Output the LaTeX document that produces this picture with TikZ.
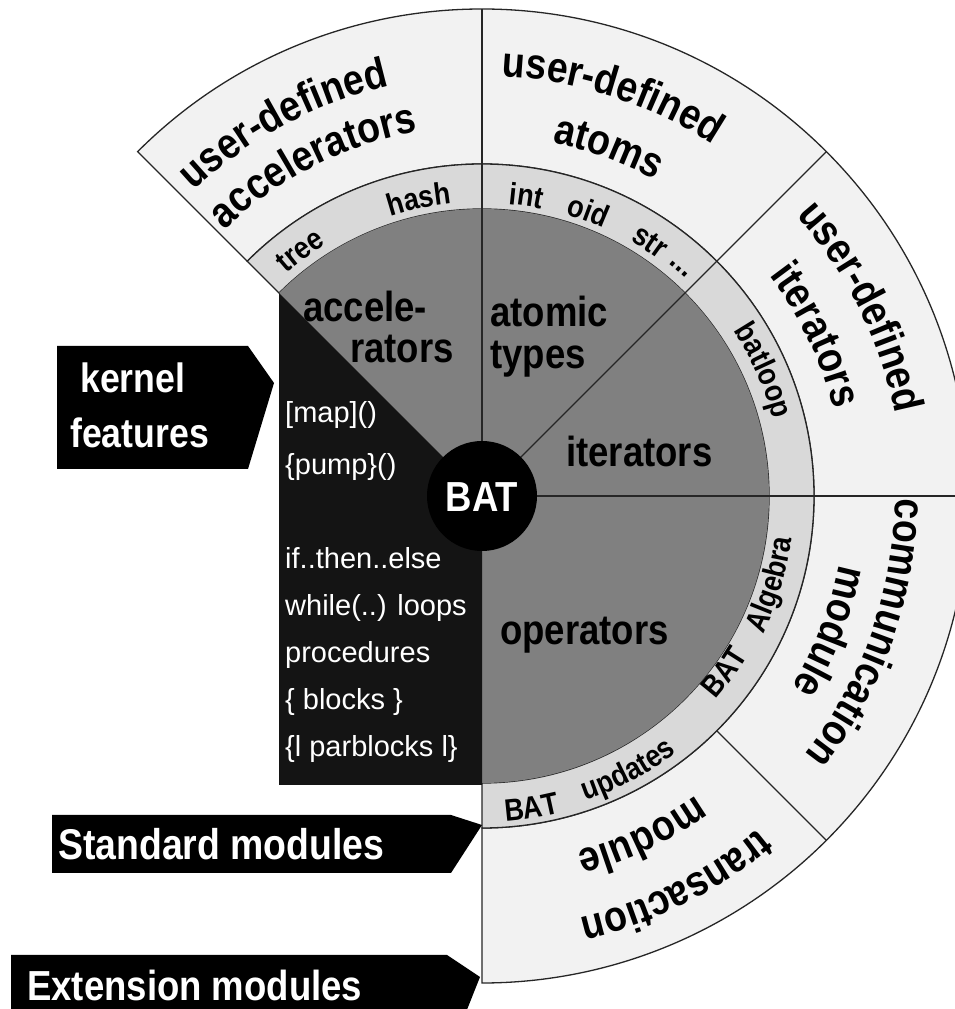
\documentclass[tikz,border=0pt]{standalone}
\usepackage{fontspec}
\setmainfont{Liberation Sans}
\newfontfamily\lab{Liberation Sans}[FakeStretch=0.87]
\usetikzlibrary{decorations.text}

\definecolor{outerfill}{gray}{0.95}
\definecolor{midfill}{gray}{0.85}
\definecolor{corefill}{gray}{0.5}
\definecolor{kernfill}{gray}{0.08}

% type sizes
\newcommand\bigfont{\lab\bfseries\fontsize{42bp}{50bp}\selectfont}
\newcommand\outfont{\lab\bfseries\fontsize{43bp}{50bp}\selectfont}
\newcommand\ringfont{\lab\bfseries\fontsize{31bp}{36bp}\selectfont}
\newcommand\kfont{\fontsize{29bp}{34bp}\selectfont}

% text set along a circular arc around the origin:
% clockwise with letter tops outward / counter-clockwise with tops inward
\newcommand\cwtext[4]{\path[decorate,decoration={text along path,text align=center,text={|#1|#2}}]
  ({#3+40}:#4) arc[start angle={#3+40}, end angle={#3-40}, radius=#4];}
\newcommand\ccwtext[4]{\path[decorate,decoration={text along path,text align=center,text={|#1|#2}}]
  ({#3-40}:#4) arc[start angle={#3-40}, end angle={#3+40}, radius=#4];}

\tikzset{
  sep/.style={line width=1.3bp, draw=black!85},
  tag/.style={fill=black},
  tagtext/.style={text=white, anchor=base west, inner sep=0pt, font=\bigfont},
  coretext/.style={text=black, anchor=base west, inner sep=0pt, font=\bigfont},
  kerntext/.style={text=white, anchor=base west, inner sep=0pt, font=\kfont},
}

\begin{document}
\begin{tikzpicture}[x=1bp,y=1bp]
\clip (0,0) rectangle (955,1009);
\fill[white] (0,0) rectangle (955,1009);

\begin{scope}[shift={(482,513)}]
  % outer ring of modules
  \path[fill=outerfill, sep] (135:487) arc[start angle=135,end angle=-90,radius=487]
     -- (-90:332) arc[start angle=-90,end angle=135,radius=332] -- cycle;
  % ring of standard modules
  \path[fill=midfill, sep] (135:332) arc[start angle=135,end angle=-90,radius=332]
     -- (-90:287) arc[start angle=-90,end angle=135,radius=287] -- cycle;
  % kernel core
  \path[fill=corefill] (0,0) -- (135:287) arc[start angle=135,end angle=-90,radius=287] -- cycle;
  \fill[kernfill] (135:287) -- (0,0) -- (0,-289) -- (-203,-289) -- cycle;

  % sector separators
  \draw[sep] (0,0) -- (90:487);
  \draw[sep] (0,0) -- (45:487);
  \draw[sep] (0,0) -- (0:500);
  \draw[sep] (-45:332) -- (-45:487);

  % the BAT hub
  \node (bat) [circle, fill=black, minimum size=110bp, inner sep=0pt] at (0,0) {};
  \node (battext) [text=white, font=\bigfont, inner sep=0pt] at (0,-1) {BAT};

  % outer ring labels
  \cwtext{\outfont}{user-defined}{118}{420}
  \cwtext{\outfont}{accelerators}{117}{370}
  \cwtext{\outfont}{user-defined}{72}{420}
  \cwtext{\outfont}{atoms}{70}{360}
  \cwtext{\outfont}{user-defined}{26.5}{421}
  \cwtext{\outfont}{iterators}{25.7}{362}
  \cwtext{\outfont}{communication}{-19.5}{413}
  \cwtext{\outfont}{module}{-21.3}{364}
  \cwtext{\outfont}{transaction}{-63.6}{433}
  \cwtext{\outfont}{module}{-64.8}{368}

  % standard module labels
  \cwtext{\ringfont}{tree}{126.5}{296}
  \cwtext{\ringfont}{hash}{102}{294}
  \cwtext{\ringfont}{int}{81.5}{293}
  \cwtext{\ringfont}{oid}{69.5}{294}
  \cwtext{\ringfont}{str}{56.5}{295}
  \cwtext{\ringfont}{...}{49}{298}
  \cwtext{\ringfont}{batloop}{24}{301}
  \ccwtext{\ringfont}{BAT}{-36}{310}
  \ccwtext{\ringfont}{Algebra}{-17}{313}
  \ccwtext{\ringfont}{BAT}{-81}{326}
  \ccwtext{\ringfont}{updates}{-62}{322}
\end{scope}

% core labels
\node (acc1) [coretext] at (303,687) {accele-};
\node (acc2) [coretext] at (350,646) {rators};
\node (atom1) [coretext] at (490,682) {atomic};
\node (atom2) [coretext] at (490,640) {types};
\node (iter) [coretext] at (566,542) {iterators};
\node (oper) [coretext] at (500,364) {operators};

% kernel features
\node (k1) [kerntext] at (285,586) {[map]()};
\node (k2) [kerntext] at (285,534) {\{pump\}()};
\node (k3) [kerntext] at (285,440) {if..then..else};
\node (k4) [kerntext] at (285,393) {while(..) loops};
\node (k5) [kerntext] at (285,346) {procedures};
\node (k6) [kerntext] at (285,299) {\{ blocks \}};
\node (k7) [kerntext] at (285,252) {\{l parblocks l\}};

% pointer tags on the left
\path[tag] (57,663) -- (248,663) -- (274,626) -- (248,540) -- (57,540) -- cycle;
\node (kern1) [tagtext, font=\lab\bfseries\fontsize{41bp}{48bp}\selectfont] at (80,616) {kernel};
\node (kern2) [tagtext, font=\lab\bfseries\fontsize{41bp}{48bp}\selectfont] at (70,561) {features};

\path[tag] (52,194) -- (451,194) -- (482,184) -- (451,136) -- (52,136) -- cycle;
\node (std) [tagtext, font=\lab\bfseries\fontsize{43bp}{50bp}\selectfont] at (58,149) {Standard modules};

\path[tag] (11,54) -- (447,54) -- (480,32) -- (447,-51) -- (11,-51) -- cycle;
\node (ext) [tagtext] at (27,8) {Extension modules};
\end{tikzpicture}
\end{document}
